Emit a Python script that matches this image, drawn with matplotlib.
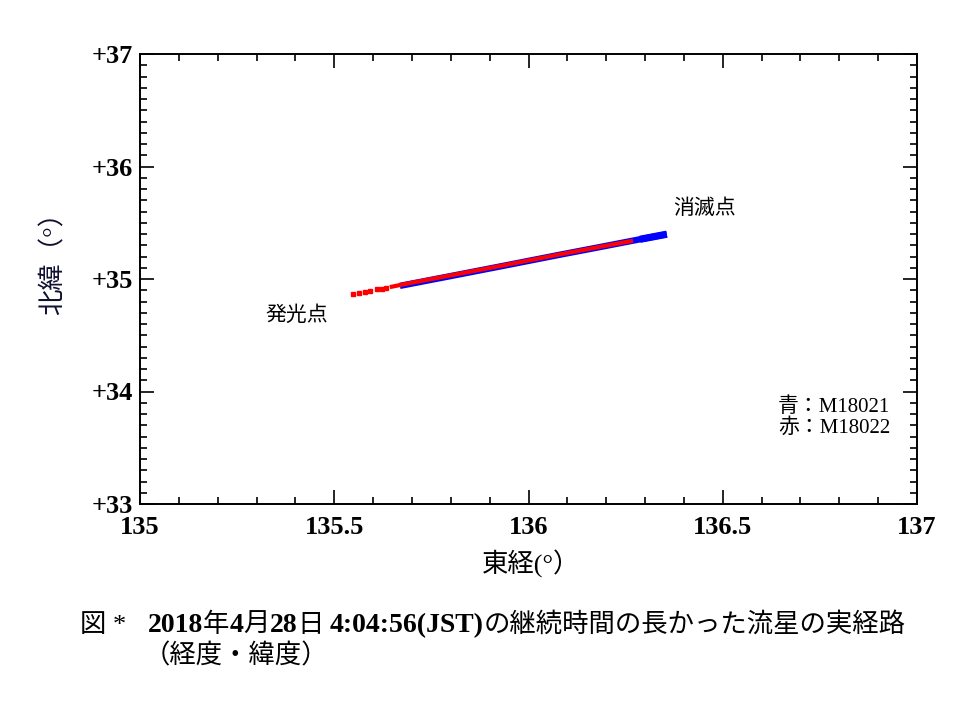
import matplotlib
matplotlib.use("Agg")
import matplotlib.pyplot as plt
from matplotlib.ticker import MultipleLocator, FuncFormatter

# track of M18021 (blue) and M18022 (red)
blue_lon = [135.669, 135.798, 135.944, 136.081, 136.184, 136.287, 136.356]
blue_lat = [34.939, 35.025, 35.123, 35.216, 35.284, 35.353, 35.398]
red_lon = [135.643, 135.686, 135.798, 135.944, 136.081, 136.184, 136.269]
red_lat = [34.928, 34.958, 35.031, 35.127, 35.219, 35.286, 35.340]
red_dot_lon = [135.549, 135.564, 135.579, 135.592, 135.610, 135.623, 135.633]
red_dot_lat = [34.866, 34.876, 34.886, 34.895, 34.907, 34.915, 34.922]

cjk = 'Noto Sans CJK JP'
mixed = ['Liberation Serif', cjk]

fig = plt.figure(figsize=(9.74, 7.03), dpi=100)
ax = fig.add_axes([140/974, 1-504/703, 777/974, 450/703])

ax.plot(blue_lon, blue_lat, color='#0000ff', lw=4.6, solid_capstyle='butt')
ax.plot(blue_lon[-2:], blue_lat[-2:], color='#0000ff', lw=5.2, solid_capstyle='butt')
ax.plot(red_lon, red_lat, color='#ff0000', lw=3.0, solid_capstyle='butt')
ax.plot(red_dot_lon, red_dot_lat, ls='none', marker='s', ms=2.6, color='#ff0000')

ax.set_xlim(135, 137)
ax.set_ylim(33, 37)
ax.xaxis.set_major_locator(MultipleLocator(0.5))
ax.xaxis.set_minor_locator(MultipleLocator(0.1))
ax.yaxis.set_major_locator(MultipleLocator(1))
ax.yaxis.set_minor_locator(MultipleLocator(0.1))
ax.xaxis.set_major_formatter(FuncFormatter(lambda v, p: '%g' % v))
ax.yaxis.set_major_formatter(FuncFormatter(lambda v, p: '+%d' % v))
ax.tick_params(which='both', direction='in', top=True, right=True, width=1.2)
ax.tick_params(which='major', length=10)
ax.tick_params(axis='x', which='major', pad=9)
ax.tick_params(axis='y', which='major', pad=5)
ax.tick_params(which='minor', length=5)
for lab in ax.get_xticklabels() + ax.get_yticklabels():
    lab.set_fontfamily('Liberation Serif')
    lab.set_fontweight('bold')
    lab.set_fontsize(19)
for s in ax.spines.values():
    s.set_linewidth(1.4)

ax.text(136.372, 35.632, '消滅点', family=cjk, fontsize=15, ha='left', va='center')
ax.text(135.322, 34.682, '発光点', family=cjk, fontsize=15, ha='left', va='center')
ax.text(136.642, 33.865, '青：M18021', family=mixed, fontsize=15, ha='left', va='center')
ax.text(136.642, 33.678, '赤：M18022', family=mixed, fontsize=15, ha='left', va='center')

fig.text(531/974, 1-564/703, '東経(°）', family=mixed, fontsize=19, ha='center', va='center')
fig.text(53/974, 1-257/703, '北緯（°）', family=mixed, fontsize=19, ha='center', va='center',
         rotation=90, color='#101030')

# caption: bold serif digits mixed with plain Japanese
base = 1-632/703
fig.text(80/974, base, '図 *', family=mixed, fontsize=19, ha='left', va='baseline')
parts = [('2018', True), ('年', False), ('4', True), ('月', False), ('28', True),
         ('日 ', False), ('4:04:56(JST)', True), ('の継続時間の長かった流星の実経路', False)]
x = 148/974
r = fig.canvas.get_renderer()
for txt, bold in parts:
    kw = dict(family='Liberation Serif', fontweight='bold', fontsize=20) if bold \
        else dict(family=cjk, fontsize=19)
    t = fig.text(x, base, txt, ha='left', va='baseline', **kw)
    x += t.get_window_extent(renderer=r).width / fig.bbox.width
fig.text(144/974, 1-656/703, '（経度・緯度）', family=cjk, fontsize=19, ha='left', va='center')

fig.savefig('out.png', dpi=100)
